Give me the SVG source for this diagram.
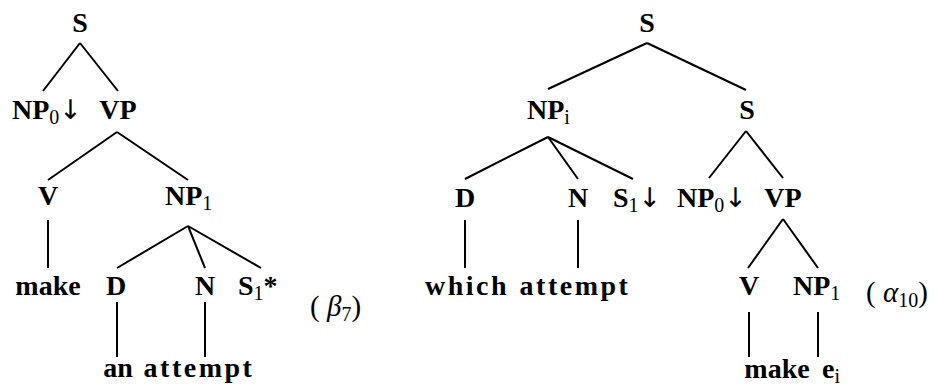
<svg xmlns="http://www.w3.org/2000/svg" width="939" height="391" viewBox="0 0 939 391">
<style>
.t{font-family:"Liberation Serif","DejaVu Serif",serif;font-weight:bold;font-size:28px;fill:#000}
.c{text-anchor:middle}
.w{letter-spacing:2.5px}
.sub{font-weight:normal;font-size:20px}
.ar{font-family:"DejaVu Sans","Liberation Serif",sans-serif;font-weight:normal;font-size:27px}
.lab{font-family:"Liberation Serif","DejaVu Serif",serif;font-size:29px;fill:#000}
.e line{stroke:#000;stroke-width:2;fill:none}
</style>
<rect width="939" height="391" fill="#fff"/>
<g class="e" id="connectors">
<line x1="80" y1="43" x2="43" y2="91"/>
<line x1="80" y1="43" x2="118" y2="91"/>
<line x1="117" y1="132" x2="48" y2="180"/>
<line x1="117" y1="132" x2="188" y2="180"/>
<line x1="48" y1="220" x2="48" y2="268"/>
<line x1="188" y1="226" x2="117" y2="268"/>
<line x1="188" y1="226" x2="205" y2="268"/>
<line x1="188" y1="226" x2="261" y2="268"/>
<line x1="117" y1="302" x2="117" y2="357"/>
<line x1="205" y1="302" x2="205" y2="357"/>
<line x1="647" y1="43" x2="548" y2="89"/>
<line x1="647" y1="43" x2="746" y2="90"/>
<line x1="548" y1="137" x2="465" y2="179"/>
<line x1="548" y1="137" x2="578" y2="179"/>
<line x1="548" y1="137" x2="633" y2="179"/>
<line x1="746" y1="131" x2="709" y2="178"/>
<line x1="746" y1="131" x2="783" y2="178"/>
<line x1="465" y1="220" x2="465" y2="268"/>
<line x1="578" y1="220" x2="578" y2="268"/>
<line x1="783" y1="219" x2="748" y2="268"/>
<line x1="783" y1="219" x2="818" y2="268"/>
<line x1="749" y1="312" x2="749" y2="357"/>
<line x1="818" y1="312" x2="818" y2="357"/>
</g>
<g id="beta7">
<g id="b_S"><text class="t c" x="80" y="32">S</text></g>
<g id="b_NP0"><text class="t" x="12" y="119">NP<tspan class="sub" dy="5">0</tspan><tspan class="ar" dy="-5">↓</tspan></text></g>
<g id="b_VP"><text class="t c" x="118" y="119">VP</text></g>
<g id="b_V"><text class="t c" x="48" y="205">V</text></g>
<g id="b_NP1"><text class="t" x="165" y="205">NP<tspan class="sub" dy="5">1</tspan></text></g>
<g id="b_make"><text class="t c" x="48" y="295">make</text></g>
<g id="b_D"><text class="t c" x="116" y="295">D</text></g>
<g id="b_N"><text class="t c" x="205" y="295">N</text></g>
<g id="b_S1"><text class="t" x="238" y="295">S<tspan class="sub" dy="5">1</tspan><tspan dy="-5">*</tspan></text></g>
<g id="b_an"><text class="t c" x="118" y="377">an</text></g>
<g id="b_attempt"><text class="t c w" x="199" y="377">attempt</text></g>
<g id="b_label"><text class="lab" x="310" y="316">( <tspan font-style="italic">β</tspan><tspan font-size="20" dy="5">7</tspan><tspan dy="-5">)</tspan></text></g>
</g>
<g id="alpha10">
<g id="a_S"><text class="t c" x="647" y="32">S</text></g>
<g id="a_NPi"><text class="t" x="527" y="119">NP<tspan class="sub" dy="5">i</tspan></text></g>
<g id="a_S2"><text class="t c" x="747" y="119">S</text></g>
<g id="a_D"><text class="t c" x="465" y="207">D</text></g>
<g id="a_N"><text class="t c" x="578" y="207">N</text></g>
<g id="a_S1"><text class="t" x="613" y="207">S<tspan class="sub" dy="5">1</tspan><tspan class="ar" dy="-5">↓</tspan></text></g>
<g id="a_NP0"><text class="t" x="677" y="207">NP<tspan class="sub" dy="5">0</tspan><tspan class="ar" dy="-5">↓</tspan></text></g>
<g id="a_VP"><text class="t c" x="783" y="207">VP</text></g>
<g id="a_which"><text class="t c w" x="467" y="295">which</text></g>
<g id="a_attempt"><text class="t c w" x="575" y="295">attempt</text></g>
<g id="a_V"><text class="t c" x="749" y="295">V</text></g>
<g id="a_NP1"><text class="t" x="793" y="295">NP<tspan class="sub" dy="5">1</tspan></text></g>
<g id="a_make"><text class="t c" x="777" y="378">make</text></g>
<g id="a_ei"><text class="t" x="822" y="378">e<tspan class="sub" dy="5">i</tspan></text></g>
<g id="a_label"><text class="lab" x="866" y="302">( <tspan font-style="italic">α</tspan><tspan font-size="20" dy="5">10</tspan><tspan dy="-5">)</tspan></text></g>
</g>
</svg>
